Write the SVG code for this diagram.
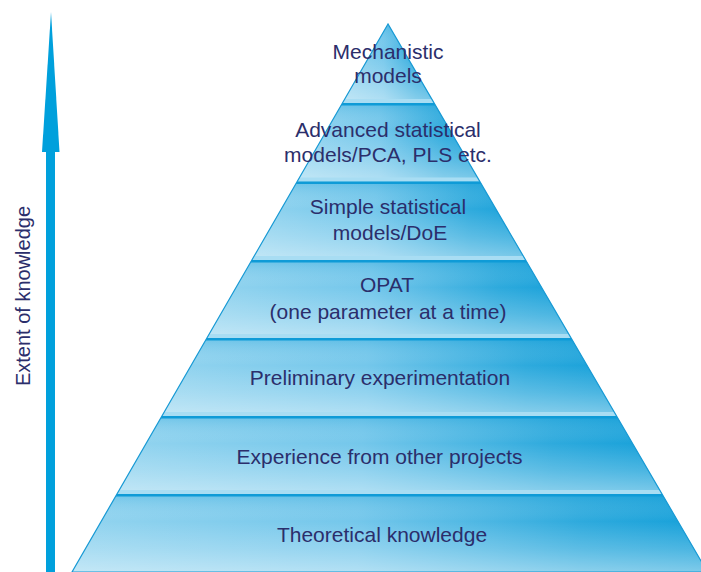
<svg xmlns="http://www.w3.org/2000/svg" width="701" height="572" viewBox="0 0 701 572">
  <defs>
    <style>
      .lbl { font-family: "Liberation Sans", Arial, sans-serif; font-size: 21px; fill: #2b2e6b; text-anchor: middle; }
      .axis-lbl { font-family: "Liberation Sans", Arial, sans-serif; font-size: 20px; fill: #2b2e6b; text-anchor: middle; }
      .band { fill: url(#bandBase); }
      .sheen { fill: url(#bandSheen); }
      .sep-dark { stroke: #0f9bd7; stroke-width: 2.6; }
      .sep-light { fill: #a8ddf3; }
    </style>
    <!-- horizontal base tone: pale on the left, saturated blue on the right -->
    <linearGradient id="bandBase" x1="0" y1="0" x2="1" y2="0">
      <stop offset="0" stop-color="#93d4ef"/>
      <stop offset="0.45" stop-color="#74c7eb"/>
      <stop offset="0.8" stop-color="#2eaadd"/>
      <stop offset="1" stop-color="#15a0d9"/>
    </linearGradient>
    <!-- vertical sheen: each band brightens toward its lower edge -->
    <linearGradient id="bandSheen" x1="0" y1="0" x2="0" y2="1">
      <stop offset="0" stop-color="#0a98d4" stop-opacity="0.25"/>
      <stop offset="0.35" stop-color="#ffffff" stop-opacity="0"/>
      <stop offset="0.7" stop-color="#ffffff" stop-opacity="0.22"/>
      <stop offset="1" stop-color="#ffffff" stop-opacity="0.45"/>
    </linearGradient>
    <clipPath id="pyramidClip">
      <polygon points="388,24 72,572 707.5,572"/>
    </clipPath>
  </defs>

  <rect width="701" height="572" fill="#ffffff"/>

  <!-- vertical axis arrow -->
  <g id="knowledge-axis">
    <rect x="46" y="150" width="9" height="422" fill="#00a0dc"/>
    <polygon points="51,12 42,152 59.5,152" fill="#00a0dc"/>
    <text class="axis-lbl" transform="translate(29.5,296) rotate(-90)">Extent of knowledge</text>
  </g>

  <!-- pyramid bands, top to bottom -->
  <g id="mechanistic-models">
    <polygon class="band" points="388,24 342.45,103 434.06,103"/>
    <polygon class="sheen" points="388,24 342.45,103 434.06,103"/>
  </g>
  <g id="advanced-statistical">
    <polygon class="band" points="342.45,103 297.2,181.5 479.8,181.5 434.06,103"/>
    <polygon class="sheen" points="342.45,103 297.2,181.5 479.8,181.5 434.06,103"/>
  </g>
  <g id="simple-statistical">
    <polygon class="band" points="297.2,181.5 251.9,260 525.6,260 479.8,181.5"/>
    <polygon class="sheen" points="297.2,181.5 251.9,260 525.6,260 479.8,181.5"/>
  </g>
  <g id="opat">
    <polygon class="band" points="251.9,260 206.9,338 571.1,338 525.6,260"/>
    <polygon class="sheen" points="251.9,260 206.9,338 571.1,338 525.6,260"/>
  </g>
  <g id="preliminary">
    <polygon class="band" points="206.9,338 162,416 616.5,416 571.1,338"/>
    <polygon class="sheen" points="206.9,338 162,416 616.5,416 571.1,338"/>
  </g>
  <g id="experience">
    <polygon class="band" points="162,416 117,494 662,494 616.5,416"/>
    <polygon class="sheen" points="162,416 117,494 662,494 616.5,416"/>
  </g>
  <g id="theoretical">
    <polygon class="band" points="117,494 72,572 707.5,572 662,494"/>
    <polygon class="sheen" points="117,494 72,572 707.5,572 662,494"/>
  </g>

  <!-- band separators: pale bevel over a blue rule -->
  <g id="separators" clip-path="url(#pyramidClip)">
    <rect class="sep-light" x="0" y="99" width="701" height="4"/>
    <rect class="sep-light" x="0" y="177.5" width="701" height="4"/>
    <rect class="sep-light" x="0" y="256" width="701" height="4"/>
    <rect class="sep-light" x="0" y="334" width="701" height="4"/>
    <rect class="sep-light" x="0" y="412" width="701" height="4"/>
    <rect class="sep-light" x="0" y="490" width="701" height="4"/>
    <line class="sep-dark" x1="0" y1="104.3" x2="701" y2="104.3"/>
    <line class="sep-dark" x1="0" y1="182.8" x2="701" y2="182.8"/>
    <line class="sep-dark" x1="0" y1="261.3" x2="701" y2="261.3"/>
    <line class="sep-dark" x1="0" y1="339.3" x2="701" y2="339.3"/>
    <line class="sep-dark" x1="0" y1="417.3" x2="701" y2="417.3"/>
    <line class="sep-dark" x1="0" y1="495.3" x2="701" y2="495.3"/>
  </g>

  <!-- pyramid outline -->
  <polygon points="388,24 72,572 707.5,572" fill="none" stroke="#1799d4" stroke-width="1.2"/>

  <!-- band labels -->
  <g id="labels">
    <text class="lbl" x="388" y="59">Mechanistic</text>
    <text class="lbl" x="388" y="83">models</text>
    <text class="lbl" x="388" y="137">Advanced statistical</text>
    <text class="lbl" x="388" y="162">models/PCA, PLS etc.</text>
    <text class="lbl" x="388" y="214">Simple statistical</text>
    <text class="lbl" x="390" y="239.5">models/DoE</text>
    <text class="lbl" x="387" y="292">OPAT</text>
    <text class="lbl" x="388" y="318.5">(one parameter at a time)</text>
    <text class="lbl" x="380" y="385">Preliminary experimentation</text>
    <text class="lbl" x="379.5" y="463.5">Experience from other projects</text>
    <text class="lbl" x="382" y="541.5">Theoretical knowledge</text>
  </g>
</svg>
